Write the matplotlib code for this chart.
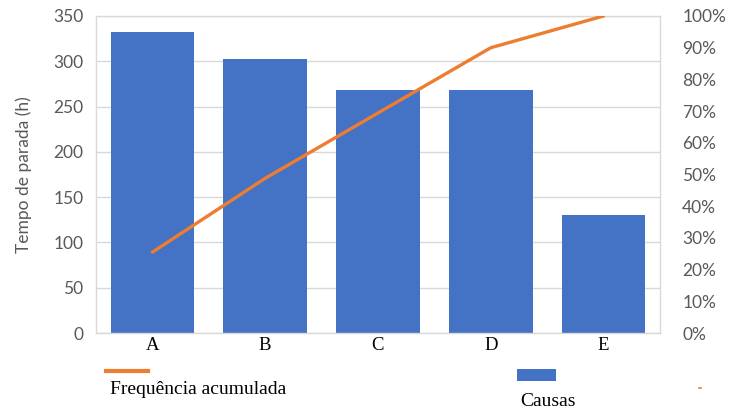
import matplotlib

matplotlib.use("Agg")

import matplotlib.pyplot as plt
from matplotlib.patches import Rectangle
from matplotlib.lines import Line2D

COLORS = {
    "blue": "#4472C4",
    "orange": "#ED7D31",
    "grid": "#D9D9D9",
    "text": "#595959",
}

causes = ["A", "B", "C", "D", "E"]
downtime_hours = [332, 302, 268, 268, 130]
cumulative_pct = [25.5, 48.8, 69.4, 90.0, 100.0]
left_ticks = [0, 50, 100, 150, 200, 250, 300, 350]
right_ticks = [0, 10, 20, 30, 40, 50, 60, 70, 80, 90, 100]

W, H = 731, 409
fig = plt.figure(figsize=(W / 100, H / 100), dpi=100)
ax = fig.add_axes([96 / W, 1 - 333 / H, 564 / W, 317 / H])

positions = range(len(causes))
ax.bar(positions, downtime_hours, width=0.74, color=COLORS["blue"], zorder=2)
ax.set_xlim(-0.5, len(causes) - 0.5)
ax.set_ylim(0, 350)
ax.set_yticks(left_ticks)
ax.yaxis.grid(True, color=COLORS["grid"], linewidth=1, zorder=0)
ax.set_axisbelow(True)
for spine in ax.spines.values():
    spine.set_color(COLORS["grid"])
    spine.set_linewidth(1)
ax.tick_params(axis="y", length=0, pad=9, labelsize=12.5, labelcolor=COLORS["text"])
for label in ax.get_yticklabels():
    label.set_fontfamily("Lato")
ax.set_xticks(list(positions))
ax.set_xticklabels(causes, fontfamily="Liberation Serif", fontsize=13.5)
ax.tick_params(axis="x", length=0, pad=3)
ax.set_ylabel("Tempo de parada (h)", fontfamily="Lato", fontsize=12.5,
              color=COLORS["text"], labelpad=15)

ax2 = ax.twinx()
ax2.plot(positions, cumulative_pct, color=COLORS["orange"], linewidth=2.4,
         solid_capstyle="round", zorder=3)
ax2.set_ylim(0, 100)
ax2.set_yticks(right_ticks)
ax2.set_yticklabels([f"{t}%" for t in right_ticks], fontfamily="Lato")
ax2.tick_params(axis="y", length=0, pad=16, labelsize=12.5, labelcolor=COLORS["text"])
for spine in ax2.spines.values():
    spine.set_visible(False)

# legend pieces placed below the chart
fig.add_artist(Line2D([106 / W, 148 / W], [1 - 371 / H, 1 - 371 / H],
                      color=COLORS["orange"], linewidth=3.0))
fig.text(110 / W, 1 - 390 / H, "Frequência acumulada", fontfamily="Liberation Serif",
         fontsize=14, va="center", ha="left")
fig.add_artist(Rectangle((517 / W, 1 - 381 / H), 39 / W, 12 / H,
                         facecolor=COLORS["blue"], edgecolor="none"))
fig.text(520 / W, 1 - 402 / H, "Causas", fontfamily="Liberation Serif",
         fontsize=14, va="center", ha="left")
fig.add_artist(Line2D([699 / W, 701 / W], [1 - 388 / H, 1 - 388 / H],
                      color=COLORS["orange"], linewidth=1.2))

fig.savefig("out.png", dpi=100, facecolor="white")
